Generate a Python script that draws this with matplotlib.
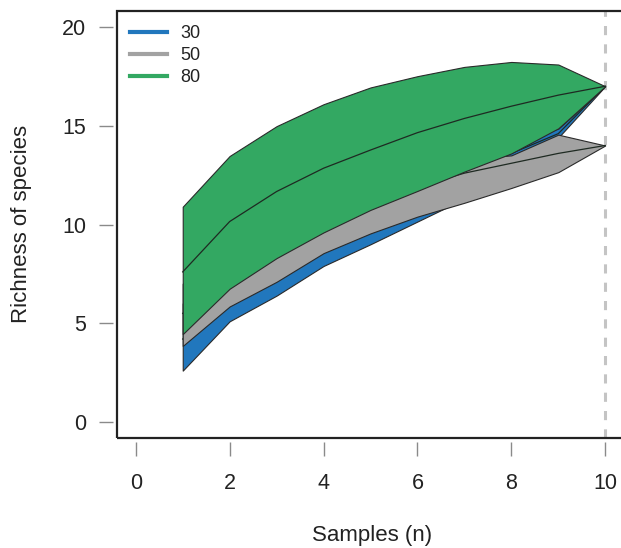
import matplotlib

matplotlib.use("Agg", force=True)
import matplotlib.pyplot as plt
from matplotlib.patches import Rectangle

plt.rcParams["font.family"] = ["Liberation Sans", "DejaVu Sans"]

samples = [1, 2, 3, 4, 5, 6, 7, 8, 9, 10]

# 30
s30_lower = [2.6, 5.1, 6.4, 7.9, 9.0, 10.15, 11.3, 12.6, 14.4, 17.0]
s30_mean = [4.2, 6.7, 8.1, 9.4, 10.5, 11.5, 12.5, 13.6, 14.6, 17.0]
s30_upper = [6.0, 8.4, 9.9, 11.0, 12.0, 12.8, 13.7, 14.3, 14.85, 17.0]

# 50
s50_lower = [3.85, 5.85, 7.1, 8.55, 9.55, 10.4, 11.1, 11.85, 12.65, 14.0]
s50_mean = [5.5, 8.0, 9.4, 10.4, 11.2, 11.9, 12.6, 13.1, 13.6, 14.0]
s50_upper = [7.0, 9.6, 11.0, 11.9, 12.6, 13.0, 13.3, 13.5, 14.55, 14.0]

# 80
s80_lower = [4.45, 6.75, 8.3, 9.6, 10.74, 11.7, 12.68, 13.6, 14.87, 17.0]
s80_mean = [7.6, 10.15, 11.67, 12.85, 13.77, 14.65, 15.37, 15.99, 16.55, 17.0]
s80_upper = [10.9, 13.47, 14.98, 16.09, 16.94, 17.51, 17.98, 18.23, 18.1, 17.0]

labels = ["30", "50", "80"]
colors = ["#2177bd", "#a2a2a2", "#33a862"]

W, H = 621, 548
fig = plt.figure(figsize=(W / 100, H / 100), dpi=100)
ax = fig.add_axes([117 / W, 1 - 437.8 / H, (624 - 117) / W, (437.8 - 11.2) / H])

bands = [
    (s30_lower, s30_mean, s30_upper),
    (s50_lower, s50_mean, s50_upper),
    (s80_lower, s80_mean, s80_upper),
]
for (lower, mean, upper), color, label in zip(bands, colors, labels):
    ax.fill_between(samples, lower, upper, facecolor=color, edgecolor="#2a2a2a",
                    linewidth=0.8, zorder=2)
    ax.plot(samples, mean, color="#1e2a22", linewidth=0.9, zorder=2)
    ax.plot([], [], color=color, linewidth=3, label=label)

ax.axvline(10, color="#c4c4c4", linewidth=2.2, linestyle=(0, (3, 3)), zorder=1)

ax.set_xlim(-0.4, 10.4)
ax.set_ylim(-0.8, 20.8)
ax.set_xticks([0, 2, 4, 6, 8, 10])
ax.set_yticks([0, 5, 10, 15, 20])

for side in ["left", "bottom"]:
    ax.spines[side].set_position(("outward", 3))
    ax.spines[side].set_visible(False)
for side in ["top", "right"]:
    ax.spines[side].set_visible(False)
ax.add_patch(Rectangle((0, 0), 1, 1, transform=ax.transAxes, fill=False,
                       edgecolor="#222222", linewidth=1.6, clip_on=False, zorder=5))

ax.tick_params(axis="both", direction="out", length=10, width=1.0, color="#8a8a8a",
               labelsize=15.5, labelcolor="#222222")
ax.tick_params(axis="x", pad=12)
ax.tick_params(axis="y", pad=9)

fig.text(22 / W, 1 - 223.5 / H, "Richness of species", rotation=90, ha="center",
         va="center", fontsize=16, color="#222222")
fig.text(372 / W, 1 - 536 / H, "Samples (n)", ha="center", va="center",
         fontsize=16, color="#222222")

leg = ax.legend(loc="upper left", bbox_to_anchor=(130 / W, 1 - 25 / H),
                bbox_transform=fig.transFigure, frameon=False, fontsize=13,
                handlelength=2.05, handletextpad=0.72, labelspacing=0.29,
                borderpad=0, borderaxespad=0)
for text in leg.get_texts():
    text.set_color("#222222")

fig.savefig("out.png", dpi=100, facecolor="white")
plt.close(fig)
